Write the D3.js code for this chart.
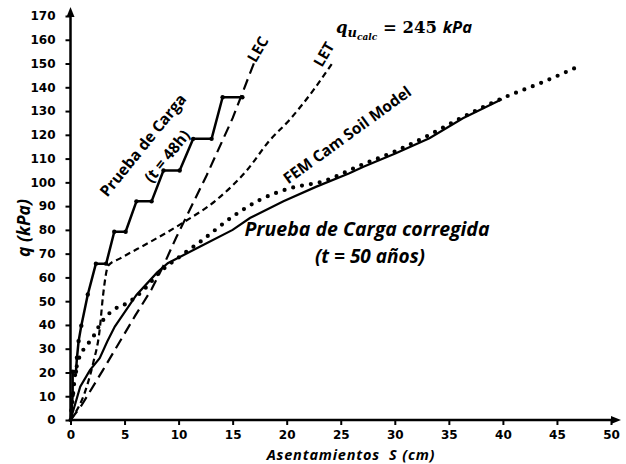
<!DOCTYPE html>
<html>
<head>
<meta charset="utf-8">
<script src="https://cdn.jsdelivr.net/npm/d3@7/dist/d3.min.js"></script>
<style>
  html, body { margin: 0; padding: 0; background: #fff; }
  svg { display: block; }
  .tick text { font-family: "DejaVu Sans", sans-serif; font-weight: bold; font-size: 12px; fill: #000; }
  .lbl { font-family: "Open Sans", sans-serif; font-weight: bold; fill: #000; }
</style>
</head>
<body>
<svg id="chart" width="626" height="464"></svg>
<script>
// Settlement S (cm) vs applied pressure q (kPa)

// Load test, t = 48 h (stepped curve with markers)
const loadTestS = [0, 0.1, 0.2, 0.2, 0.5, 0.6, 0.75, 1.0, 1.6, 2.35, 3.3, 4.05, 5.1, 6.1, 7.5, 8.6, 10.1, 11.35, 13.05, 14.07, 15.9];
const loadTestQ = [0, 4.2, 10.5, 20.3, 20.3, 26.2, 33.2, 39.7, 52.8, 65.8, 65.8, 79.2, 79.2, 92.0, 92.0, 105.0, 105.0, 118.3, 118.3, 135.8, 135.8];

// Corrected load test, t = 50 years
const correctedS = [0, 0.9, 1.8, 2.7, 3.4, 4.1, 6.1, 8.0, 9.0, 12.0, 15.0, 16.6, 19.7, 22.75, 25.8, 27.1, 30.1, 33.2, 36.3, 39.9];
const correctedQ = [0, 14, 21, 26, 33, 39.3, 52.6, 62, 66, 73, 80, 85, 92, 98.2, 103.8, 106.6, 112.2, 118.6, 127, 135];

// FEM Cam Soil Model
const femS = [0, 0.1, 0.4, 0.72, 1.55, 2.1, 2.7, 3.35, 4.1, 5.3, 6.1, 7.2, 8.0, 10.1, 12.0, 15.0, 17.5, 20.3, 23.4, 27.0, 30.0, 33.0, 36.3, 40.0, 43.6, 46.8];
const femQ = [0, 4, 18, 25, 31.6, 35, 40, 43.8, 46.7, 49.3, 52, 56.8, 61, 68.7, 75, 85.6, 92.6, 97.5, 100.5, 107.5, 113, 119.5, 127.5, 135.5, 142, 148.4];

// LEC
const lecS = [0, 1.0, 3.0, 6.0, 7.5, 8.6, 9.8, 12.6, 15.0, 17.0];
const lecQ = [0, 6, 21, 44, 55, 65, 77, 103, 127, 150.5];

// LET
const letS = [0, 1.5, 2.1, 2.7, 3.0, 3.5, 4.6, 7.4, 10.4, 13.5, 16.3, 18.4, 20.3, 22.5, 24.2];
const letQ = [0, 14, 24, 38, 52, 65, 68, 75, 83, 92.6, 105, 117.5, 126.5, 139, 150];

// Axis ticks
const xTicks = [0, 5, 10, 15, 20, 25, 30, 35, 40, 45, 50];
const yTicks = [0, 10, 20, 30, 40, 50, 60, 70, 80, 90, 100, 110, 120, 130, 140, 150, 160, 170];

const svg = d3.select("#chart");
const x = d3.scaleLinear().domain([0, 50]).range([70.5, 611]);
const y = d3.scaleLinear().domain([0, 170]).range([420, 16]);

const zip = (a, b) => a.map((v, i) => [v, b[i]]);
const line = d3.line().x(d => x(d[0])).y(d => y(d[1]));

// arrow heads for the axes
const defs = svg.append("defs");
defs.append("marker").attr("id", "arrow").attr("viewBox", "0 0 10 10")
  .attr("refX", 5).attr("refY", 5).attr("markerWidth", 4).attr("markerHeight", 4)
  .attr("orient", "auto")
  .append("path").attr("d", "M0,1 L10,5 L0,9 Z").attr("fill", "#000");

// Y axis
const yAxis = svg.append("g").attr("transform", `translate(${x(0)},0)`)
  .call(d3.axisLeft(y).tickValues(yTicks).tickSize(5).tickPadding(10).tickFormat(d3.format("d")));
yAxis.select(".domain").remove();
yAxis.selectAll(".tick line").attr("stroke", "#000").attr("stroke-width", 2);

// X axis
const xAxis = svg.append("g").attr("transform", `translate(0,${y(0)})`)
  .call(d3.axisBottom(x).tickValues(xTicks).tickSize(5).tickPadding(5).tickFormat(d3.format("d")));
xAxis.select(".domain").remove();
xAxis.selectAll(".tick line").attr("stroke", "#000").attr("stroke-width", 2);

svg.append("line").attr("x1", x(0)).attr("y1", y(0) + 1).attr("x2", x(0)).attr("y2", 12)
  .attr("stroke", "#000").attr("stroke-width", 2.5).attr("marker-end", "url(#arrow)");
svg.append("line").attr("x1", x(0) - 1).attr("y1", y(0)).attr("x2", 616).attr("y2", y(0))
  .attr("stroke", "#000").attr("stroke-width", 2.5).attr("marker-end", "url(#arrow)");

// Curves
svg.append("path").datum(zip(lecS, lecQ)).attr("d", line)
  .attr("fill", "none").attr("stroke", "#000").attr("stroke-width", 2.2).attr("stroke-dasharray", "11,6");
svg.append("path").datum(zip(letS, letQ)).attr("d", line.curve(d3.curveMonotoneX))
  .attr("fill", "none").attr("stroke", "#000").attr("stroke-width", 2.2).attr("stroke-dasharray", "6,4");
line.curve(d3.curveLinear);
svg.append("path").datum(zip(correctedS, correctedQ)).attr("d", line)
  .attr("fill", "none").attr("stroke", "#000").attr("stroke-width", 2.2);
svg.append("path").datum(zip(femS, femQ)).attr("d", line.curve(d3.curveMonotoneX))
  .attr("fill", "none").attr("stroke", "#000").attr("stroke-width", 4.2)
  .attr("stroke-linecap", "round").attr("stroke-dasharray", "0,9");
line.curve(d3.curveLinear);
const lt = zip(loadTestS, loadTestQ);
svg.append("path").datum(lt).attr("d", line)
  .attr("fill", "none").attr("stroke", "#000").attr("stroke-width", 2.5).attr("stroke-linejoin", "round");
svg.append("g").selectAll("circle").data(lt.slice(1)).join("circle")
  .attr("cx", d => x(d[0])).attr("cy", d => y(d[1])).attr("r", 2.2).attr("fill", "#000");

// Axis titles
svg.append("text").attr("class", "lbl").attr("font-style", "italic").attr("font-size", 14.5)
  .attr("letter-spacing", 0.8)
  .attr("text-anchor", "middle").attr("x", 351).attr("y", 460).attr("xml:space", "preserve")
  .text("Asentamientos  S (cm)");
svg.append("text").attr("class", "lbl").attr("font-style", "italic").attr("font-size", 17.5)
  .attr("text-anchor", "middle").attr("transform", "translate(30,228) rotate(-90)").text("q (kPa)");

// Curve labels
function rotated(txt, cx, cy, angle, size, italic) {
  svg.append("text").attr("class", "lbl").attr("font-size", size)
    .attr("font-style", italic ? "italic" : "normal")
    .attr("text-anchor", "middle").attr("dominant-baseline", "middle")
    .attr("transform", `translate(${cx},${cy}) rotate(${angle})`).text(txt);
}
rotated("LEC", 259, 50, -60, 15);
rotated("LET", 325, 55, -60, 15);
rotated("FEM Cam Soil Model", 348, 136, -36, 15.5);
rotated("Prueba de Carga", 144, 146, -51, 15.5);
rotated("(t = 48h)", 168, 157, -51, 15.5);

svg.append("text").attr("class", "lbl").attr("font-style", "italic").attr("font-size", 19.5)
  .attr("text-anchor", "middle").attr("x", 367).attr("y", 236).text("Prueba de Carga corregida");
svg.append("text").attr("class", "lbl").attr("font-style", "italic").attr("font-size", 19)
  .attr("text-anchor", "middle").attr("x", 370).attr("y", 263).text("(t = 50 años)");

// Ultimate bearing capacity note
const qu = svg.append("text").attr("x", 336).attr("y", 33)
  .attr("font-family", "DejaVu Serif, serif").attr("font-weight", "bold").attr("font-size", 16.5).attr("fill", "#000");
qu.append("tspan").attr("font-style", "italic").text("q");
qu.append("tspan").attr("font-style", "italic").attr("font-size", 13).attr("dy", 4).text("u");
qu.append("tspan").attr("font-style", "italic").attr("font-size", 9).attr("dy", 3).text("calc");
qu.append("tspan").attr("dy", -7).text(" = 245 ");
qu.append("tspan").attr("font-style", "italic").attr("font-family", "Open Sans, sans-serif").text("kPa");
</script>
</body>
</html>
